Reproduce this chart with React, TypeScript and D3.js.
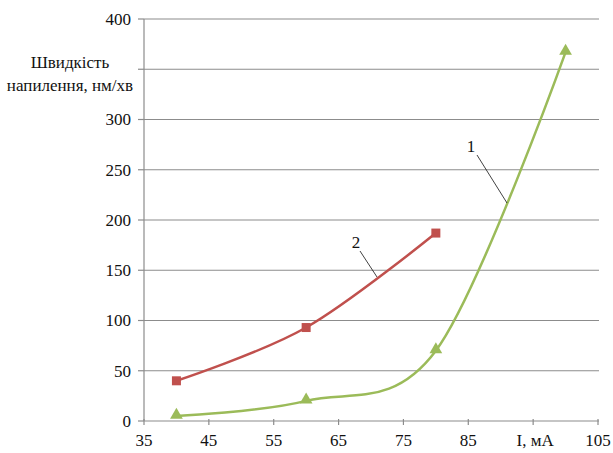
import React from "react";
import * as d3 from "d3";

const series1X = [40, 60, 80, 100];
const series1Y = [5, 20, 70, 367];
const series2X = [40, 60, 80];
const series2Y = [40, 93, 187];
const xTicks = [35, 45, 55, 65, 75, 85, 95, 105];
const yTicks = [0, 50, 100, 150, 200, 250, 300, 350, 400];
const xTitle = "I, мА";
const yTitle1 = "Швидкість";
const yTitle2 = "напилення, нм/хв";

const W = 613;
const H = 453;
const left = 144;
const right = 598;
const top = 19;
const bottom = 421;
const font = "'Liberation Serif'";

export default function App() {
  const x = d3.scaleLinear().domain([35, 105]).range([left, right]);
  const y = d3.scaleLinear().domain([0, 400]).range([bottom, top]);
  const line = d3
    .line<[number, number]>()
    .x((d) => x(d[0]))
    .y((d) => y(d[1]))
    .curve(d3.curveCardinal.tension(0));
  const d1 = series1X.map((v, i) => [v, series1Y[i]] as [number, number]);
  const d2 = series2X.map((v, i) => [v, series2Y[i]] as [number, number]);
  const green = "#9BBB59";
  const red = "#C0504D";
  const tri = d3.symbol().type(d3.symbolTriangle).size(70)();
  const ts = { fontFamily: font, fontSize: 17, fill: "#111" } as React.CSSProperties;
  return (
    <svg width={W} height={H} style={{ position: "absolute", left: 0, top: 0, background: "#fff" }}>
      {yTicks.map((t) => (
        <g key={t}>
          {t > 0 && (
            <line x1={left} x2={right + 1} y1={y(t)} y2={y(t)} stroke="#8c8c8c" strokeWidth={1.2} />
          )}
          <line x1={left - 6} x2={left} y1={y(t)} y2={y(t)} stroke="#8c8c8c" strokeWidth={1.2} />
          {t !== 350 && (
            <text x={left - 13} y={y(t)} dy="0.35em" textAnchor="end" style={ts}>
              {t}
            </text>
          )}
        </g>
      ))}
      <line x1={left} x2={left} y1={top} y2={bottom} stroke="#8c8c8c" strokeWidth={1.2} />
      <line x1={left} x2={right + 1} y1={bottom} y2={bottom} stroke="#8c8c8c" strokeWidth={1.2} />
      {xTicks.map((t) => (
        <g key={t}>
          <line x1={x(t)} x2={x(t)} y1={bottom - 2} y2={bottom + 4} stroke="#8c8c8c" strokeWidth={1.2} />
          {t !== 95 && (
            <text x={x(t)} y={bottom + 25} textAnchor="middle" style={ts}>
              {t}
            </text>
          )}
        </g>
      ))}
      <text x={x(95) + 2} y={bottom + 25} textAnchor="middle" style={ts}>
        {xTitle}
      </text>
      <text x={70} y={68} textAnchor="middle" style={ts}>
        {yTitle1}
      </text>
      <text x={70} y={91} textAnchor="middle" style={ts}>
        {yTitle2}
      </text>
      <path d={line(d2) || ""} fill="none" stroke={red} strokeWidth={2.5} />
      <path d={line(d1) || ""} fill="none" stroke={green} strokeWidth={2.5} />
      {d2.map((d, i) => (
        <rect key={i} x={x(d[0]) - 4.5} y={y(d[1]) - 4.5} width={9} height={9} fill={red} />
      ))}
      {d1.map((d, i) => (
        <path key={i} d={tri || ""} transform={`translate(${x(d[0])},${y(d[1]) - 1})`} fill={green} />
      ))}
      <line x1={477} x2={507} y1={155} y2={203} stroke="#111" strokeWidth={0.8} />
      <text x={471} y={152} textAnchor="middle" style={ts}>1</text>
      <line x1={360} x2={377} y1={251} y2={277} stroke="#111" strokeWidth={0.8} />
      <text x={356} y={248} textAnchor="middle" style={ts}>2</text>
    </svg>
  );
}
